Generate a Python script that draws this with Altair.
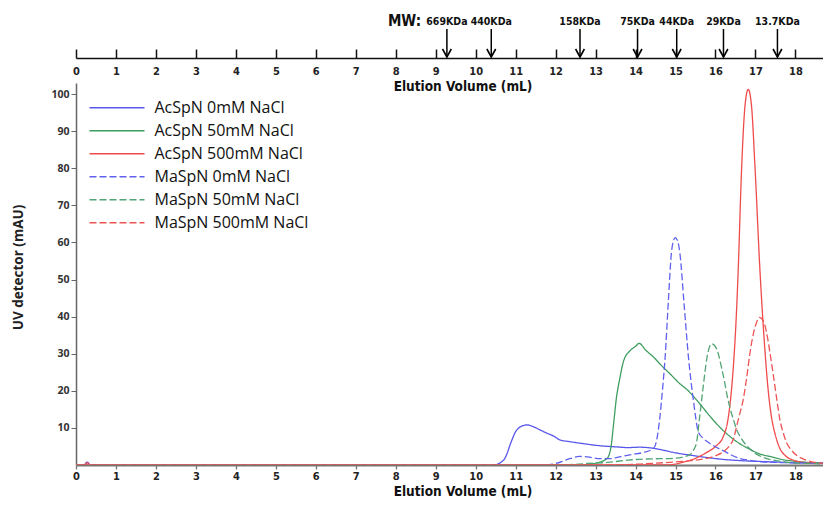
import altair as alt
import pandas as pd

# ---------------- data ----------------
series_names = [
    "AcSpN 0mM NaCl", "AcSpN 50mM NaCl", "AcSpN 500mM NaCl",
    "MaSpN 0mM NaCl", "MaSpN 50mM NaCl", "MaSpN 500mM NaCl",
]
series_colors = ["#5757ec", "#3f9d5f", "#ef4b4b", "#6060ee", "#52a474", "#ee5454"]
series_dashes = [[1, 0], [1, 0], [1, 0], [7, 3], [7, 3], [7, 3]]

acspn0_x = [0, 0.2, 0.28, 0.36, 0.45, 10.45, 10.6, 10.75, 10.88, 11.0, 11.12, 11.28, 11.45,
            11.62, 11.8, 11.95, 12.1, 12.35, 12.6, 13.1, 13.5, 13.8, 14.1, 14.45, 14.65, 14.9,
            15.15, 15.4, 15.8, 16.2, 16.6, 17.0, 17.5, 18.0, 18.7]
acspn0_y = [0, 0, 0.8, 0, 0, 0, 0.5, 2.2, 6, 9, 10.3, 10.8, 10.3,
            9.4, 8.5, 7.8, 6.8, 6.3, 5.9, 5.2, 4.9, 4.7, 4.8, 4.5, 4.1, 3.5,
            3.0, 2.6, 2.0, 1.5, 1.2, 1.0, 0.8, 0.6, 0.5]

acspn50_x = [0, 12.6, 13.0, 13.28, 13.38, 13.45, 13.52, 13.6, 13.7, 13.86, 14.0, 14.09, 14.25,
             14.44, 14.65, 14.86, 15.1, 15.3, 15.6, 15.85, 16.1, 16.35, 16.6, 16.85, 17.1, 17.4,
             17.7, 18.0, 18.45, 18.7]
acspn50_y = [0, 0, 0.5, 1.7, 4.5, 11, 18, 23, 28, 30.8, 32.0, 32.8, 31.0,
             29.2, 26.8, 24.6, 22.0, 20.2, 16.6, 13.3, 10.3, 7.8, 5.8, 4.3, 3.0, 2.2,
             1.4, 1.0, 0.6, 0.5]

acspn500_x = [0, 0.2, 0.28, 0.36, 0.45, 14.8, 15.2, 15.5, 15.78, 16.0, 16.2, 16.3, 16.38, 16.45,
              16.52, 16.57, 16.65, 16.74, 16.82, 16.9, 16.99, 17.11, 17.24, 17.32, 17.4, 17.5,
              17.61, 17.75, 17.95, 18.3, 18.7]
acspn500_y = [0, 0, 0.6, 0, 0, 0, 0.8, 1.8, 3.4, 5.0, 7.8, 11.5, 18, 27,
              40, 53, 79, 97, 101.3, 97, 80, 53, 30.5, 20, 13, 8,
              4.5, 2.5, 1.3, 0.6, 0.4]

maspn0_x = [0, 11.75, 12.0, 12.3, 12.6, 12.85, 13.1, 13.35, 13.6, 13.9, 14.2, 14.44, 14.5, 14.55,
            14.61, 14.68, 14.74, 14.82, 14.9, 14.95, 14.99, 15.05, 15.11, 15.21, 15.32, 15.45,
            15.57, 15.68, 15.78, 15.95, 16.2, 16.6, 16.9, 17.5, 18.7]
maspn0_y = [0, 0, 0.4, 1.5, 2.3, 2.1, 1.7, 1.7, 2.2, 2.8, 3.4, 4.4, 5.5, 8,
            13, 21, 29, 44, 57.5, 60.5, 61.3, 60.5, 57, 44, 29.5, 17.2,
            9, 7.3, 6.4, 5.2, 3.8, 1.8, 1.2, 0.7, 0.5]

maspn50_x = [0, 12.1, 12.8, 13.3, 13.8, 14.2, 14.6, 14.94, 15.2, 15.36, 15.45, 15.53, 15.61, 15.7,
             15.78, 15.84, 15.9, 15.97, 16.03, 16.09, 16.15, 16.22, 16.28, 16.36, 16.45, 16.53,
             16.61, 16.78, 16.95, 17.2, 17.45, 17.75, 18.03, 18.5, 18.7]
maspn50_y = [0, 0, 0.4, 0.7, 1.3, 1.6, 1.7, 1.8, 2.2, 2.8, 4.0, 6.3, 13.5, 21.8,
             28.5, 31.5, 32.7, 32.3, 31.3, 29.2, 26.3, 22.8, 19.3, 15.5, 12.2, 9.5,
             7.8, 5.2, 3.5, 2.0, 1.3, 0.8, 0.5, 0.4, 0.3]

maspn500_x = [0, 13.4, 14.2, 14.94, 15.4, 15.78, 16.0, 16.2, 16.36, 16.45, 16.53, 16.6, 16.7,
              16.78, 16.86, 16.95, 17.03, 17.1, 17.17, 17.24, 17.3, 17.36, 17.43, 17.49, 17.55,
              17.61, 17.7, 17.78, 17.9, 18.03, 18.2, 18.44, 18.7]
maspn500_y = [0, 0, 0.3, 0.8, 1.2, 1.8, 2.5, 3.6, 5.3, 7, 10.5, 13.5, 18,
              23.5, 30, 35.5, 38.5, 39.8, 39.3, 37.5, 34.5, 30.5, 25.5, 21, 16.5,
              12.3, 8.5, 6.0, 4.0, 2.6, 1.6, 0.8, 0.5]

mw_labels = ["669KDa", "440KDa", "158KDa", "75KDa", "44KDa", "29KDa", "13.7KDa"]
mw_volumes = [9.28, 10.39, 12.61, 14.05, 15.03, 16.2, 17.55]

x_ticks = list(range(0, 19))
y_ticks = [10, 20, 30, 40, 50, 60, 70, 80, 90, 100]

# ---------------- tables ----------------
all_x = [acspn0_x, acspn50_x, acspn500_x, maspn0_x, maspn50_x, maspn500_x]
all_y = [acspn0_y, acspn50_y, acspn500_y, maspn0_y, maspn50_y, maspn500_y]
rows = []
for name, xs, ys in zip(series_names, all_x, all_y):
    for a, b in zip(xs, ys):
        rows.append({"series": name, "vol": a, "uv": b})
df = pd.DataFrame(rows)
mw_df = pd.DataFrame({"label": mw_labels, "vol": mw_volumes})
mwt_df = pd.DataFrame({"t": ["MW:"]})

narrow = "Liberation Sans Narrow, DejaVu Sans Condensed, Arial Narrow, sans-serif"
sans = "Open Sans, Noto Sans, sans-serif"

xscale = alt.Scale(domain=[0, 18.69], nice=False, zero=False)
yscale = alt.Scale(domain=[0, 103], nice=False)

legend = alt.Legend(
    title=None, orient="none", legendX=12.5, legendY=14.5,
    symbolType="stroke", symbolSize=3025, symbolStrokeWidth=1.5,
    clipHeight=20.6, rowPadding=2, padding=0,
    labelFont=sans, labelFontSize=16, labelColor="#111", labelOffset=9, labelLimit=400,
)

lines = alt.Chart(df).mark_line(strokeWidth=1.3, interpolate="monotone", clip=True).encode(
    x=alt.X("vol:Q", scale=xscale, axis=alt.Axis(
        orient="bottom", values=x_ticks, format="d", title="Elution Volume (mL)",
        tickSize=4, tickColor="#777", tickWidth=1.3, domainColor="#777", domainWidth=2,
        labelFont=narrow, labelFontWeight="bold", labelFontSize=11, labelColor="#222",
        labelPadding=1, labelFlush=False,
        titleFont=narrow, titleFontSize=13.5, titleFontWeight="bold", titleColor="#111",
        titlePadding=3, titleX=386.5, titleAlign="center", grid=False)),
    y=alt.Y("uv:Q", scale=yscale, axis=alt.Axis(
        values=y_ticks, title="UV detector (mAU)",
        tickSize=5, tickColor="#666", domainColor="#666", domainWidth=1.5,
        labelFont=sans, labelFontWeight="bold", labelFontSize=10.5, labelColor="#333",
        labelPadding=2,
        titleFont=sans, titleFontSize=13.5, titleFontWeight="bold", titleColor="#222",
        titleX=-57.5, titleY=184, titleBaseline="middle", titleAlign="center",
        grid=False)),
    color=alt.Color("series:N", scale=alt.Scale(domain=series_names, range=series_colors), legend=legend),
    strokeDash=alt.StrokeDash("series:N", scale=alt.Scale(domain=series_names, range=series_dashes), legend=legend),
)

shafts = alt.Chart(mw_df).mark_rule(strokeWidth=1.5, color="black").encode(
    x=alt.X("vol:Q", scale=xscale, axis=alt.Axis(
        orient="top", values=x_ticks, format="d", title="Elution Volume (mL)",
        offset=25, tickSize=9, tickColor="#111", tickWidth=1.5,
        domainColor="#111", domainWidth=1.5,
        labelPadding=-22, labelBaseline="middle",
        labelFont=narrow, labelFontWeight="bold", labelFontSize=11, labelColor="#222",
        labelFlush=False,
        titleFont=narrow, titleFontSize=13.5, titleFontWeight="bold", titleColor="#111",
        titleX=386.5, titleY=28, titleBaseline="middle", titleAlign="center", grid=False)),
    y=alt.value(-54), y2=alt.value(-26),
)

heads = alt.Chart(mw_df).mark_point(
    shape="M-0.55,-1L0,0L0.55,-1", size=256, filled=False, strokeWidth=1.6,
    color="black", opacity=1,
).encode(
    x=alt.X("vol:Q", scale=xscale, axis=None),
    y=alt.value(-26),
)

mw_text = alt.Chart(mw_df).mark_text(
    font=narrow, fontWeight="bold", fontSize=10.5, baseline="middle", color="#111",
).encode(
    x=alt.X("vol:Q", scale=xscale, axis=None),
    y=alt.value(-61),
    text="label:N",
)

mw_title = alt.Chart(mwt_df).mark_text(
    font=narrow, fontWeight="bold", fontSize=15, baseline="middle", color="#111",
).encode(
    x=alt.value(328.5), y=alt.value(-62), text="t:N",
)

chart = alt.layer(lines, shafts, heads, mw_text, mw_title).resolve_axis(
    x="independent"
).properties(
    width=815, height=490,
    autosize=alt.AutoSizeParams(type="fit", contains="padding"),
    padding={"left": 3, "top": 6, "right": 0, "bottom": 0},
).configure_view(stroke=None)

chart.save("out.html", embed_options={"renderer": "svg", "actions": False})
